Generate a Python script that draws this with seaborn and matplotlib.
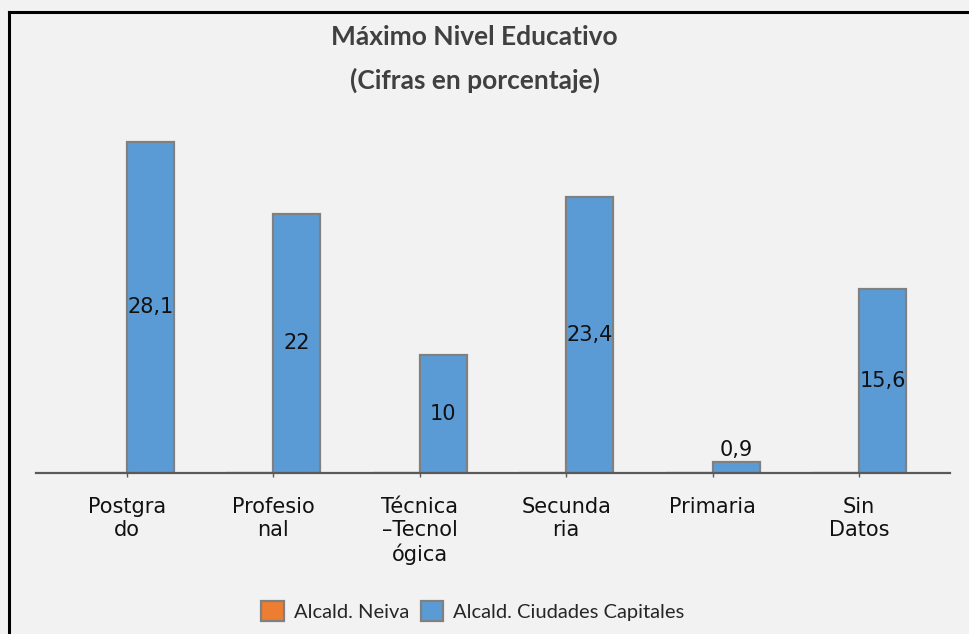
import matplotlib
matplotlib.use("Agg")
import matplotlib.pyplot as plt
from matplotlib.lines import Line2D
import pandas as pd
import seaborn as sns

# Education levels and percentages
niveles = ["Postgra\ndo", "Profesio\nnal", "Técnica\n–Tecnol\nógica",
           "Secunda\nria", "Primaria", "Sin\nDatos"]
series = ["Alcald. Neiva", "Alcald. Ciudades Capitales"]
neiva = [0, 0, 0, 0, 0, 0]
capitales = [28.1, 22, 10, 23.4, 0.9, 15.6]
etiquetas = ["28,1", "22", "10", "23,4", "0,9", "15,6"]

colores = ["#ed7d31", "#5b9bd5"]
fondo = "#f2f2f2"

df = pd.DataFrame({
    "nivel": niveles * 2,
    "serie": [series[0]] * len(niveles) + [series[1]] * len(niveles),
    "valor": neiva + capitales,
})

sns.set_style("white")
plt.rcParams["font.family"] = ["DejaVu Sans"]

fig = plt.figure(figsize=(9.69, 6.34), dpi=100, facecolor=fondo)
ax = fig.add_axes([36 / 969, 1 - 473 / 634, (950 - 36) / 969, (473 - 119.6) / 634])
ax.set_facecolor(fondo)

sns.barplot(data=df, x="nivel", y="valor", hue="serie", hue_order=series,
            order=niveles, palette=colores, width=0.64, edgecolor="#808080",
            linewidth=1.6, saturation=1, ax=ax)

ax.set_xlim(-0.62, 5.62)
ax.set_ylim(0, 30)

# value labels on the capital-cities bars
cont = ax.containers[1]
dentro = [e if v > 5 else "" for e, v in zip(etiquetas, capitales)]
fuera = [e if v <= 5 else "" for e, v in zip(etiquetas, capitales)]
ax.bar_label(cont, labels=dentro, label_type="center", fontsize=15, color="#111111")
ax.bar_label(cont, labels=fuera, label_type="edge", padding=2, fontsize=15, color="#111111")

for s in ["top", "right", "left"]:
    ax.spines[s].set_visible(False)
ax.spines["bottom"].set_color("#595959")
ax.spines["bottom"].set_linewidth(1.6)
ax.set_yticks([])
ax.set_xlabel("")
ax.set_ylabel("")
ax.tick_params(axis="x", length=3, width=1, color="#595959", pad=14,
               labelsize=15, labelcolor="#111111", bottom=True)
for t in ax.get_xticklabels():
    t.set_linespacing(1.22)

# legend at the bottom
handles, labels = ax.get_legend_handles_labels()
ax.legend(handles, labels, loc="center", bbox_to_anchor=(473 / 969, 1 - 611 / 634),
          bbox_transform=fig.transFigure, ncol=2, frameon=False,
          prop={"family": "Lato", "size": 14.5}, handlelength=1.1, handleheight=1.1,
          handletextpad=0.5, columnspacing=0.6)

# titles
fig.text(0.49, 1 - 37 / 634, "Máximo Nivel Educativo", ha="center", va="center",
         fontsize=19, fontweight="bold", family="Lato", color="#404040")
fig.text(0.49, 1 - 80 / 634, "(Cifras en porcentaje)", ha="center", va="center",
         fontsize=19, fontweight="bold", family="Lato", color="#404040")

# frame lines along the top and left edges
fig.add_artist(Line2D([9 / 969, 9 / 969], [0, 1 - 12 / 634], transform=fig.transFigure,
                      color="black", linewidth=2.2, solid_capstyle="projecting"))
fig.add_artist(Line2D([9 / 969, 1], [1 - 12 / 634, 1 - 12 / 634], transform=fig.transFigure,
                      color="black", linewidth=2.2, solid_capstyle="projecting"))

fig.savefig("out.png", dpi=100, facecolor=fondo)
